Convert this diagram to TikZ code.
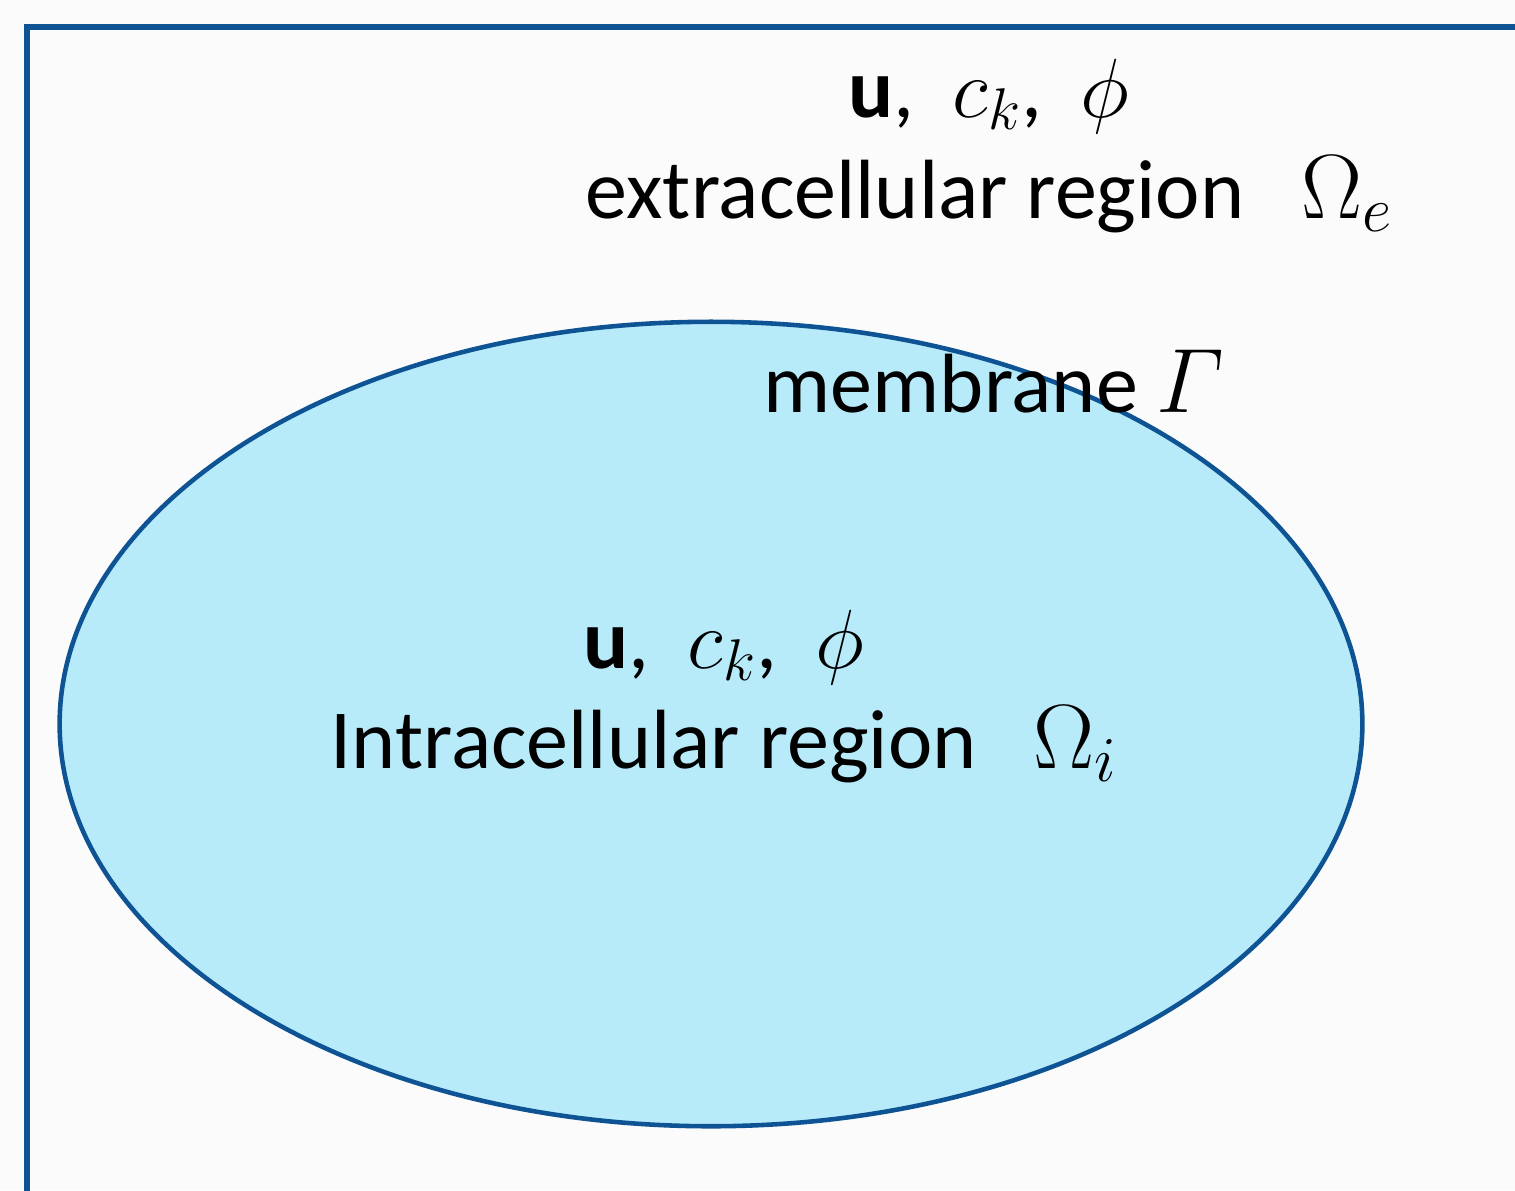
\documentclass[tikz,border=0pt]{standalone}
\usepackage{fix-cm}
\usepackage{amsmath}
\usepackage{fontspec}
\setmainfont{Carlito}
\usepackage{xcolor}
\usepackage{tikz}
\usetikzlibrary{shapes.geometric}

\definecolor{frameblue}{RGB}{14,84,148}
\definecolor{cellfill}{RGB}{183,235,250}
\definecolor{paper}{RGB}{251,251,251}

\newcommand{\bigmath}[1]{{\fontsize{26}{30}\selectfont$#1$}}

\tikzset{
  label text/.style={anchor=base west, inner sep=0pt, font=\fontsize{23.9}{28}\selectfont}
}

\begin{document}
\begin{tikzpicture}[x=0.01cm, y=-0.01cm]
    \fill[paper] (0,0) rectangle (1515,1190);
    \useasboundingbox (0,0) rectangle (1515,1190);
    % outer domain, cut off at right and bottom
    \draw[frameblue, line width=1.7pt] (27,1200) -- (27,27) -- (1530,27);
    % the cell
    \node[ellipse, draw=frameblue, fill=cellfill, line width=1.3pt, inner sep=0pt,
          minimum width=13.02cm, minimum height=8.04cm] (cell) at (711,724) {};
    \node[label text] (extvars) at (848,117) {\textbf{u},\ \ $c_k$,\ \ $\phi$};
    \node[label text] (extname) at (585,218) {extracellular region\ \ \ \bigmath{\Omega_e}};
    \node[label text] (membrane) at (763,412) {membrane \bigmath{\varGamma}};
    \node[label text] (intvars) at (583,668) {\textbf{u},\ \ $c_k$,\ \ $\phi$};
    \node[label text] (intname) at (330,768) {Intracellular region\ \ \ \bigmath{\Omega_i}};
  \end{tikzpicture}
\end{document}
